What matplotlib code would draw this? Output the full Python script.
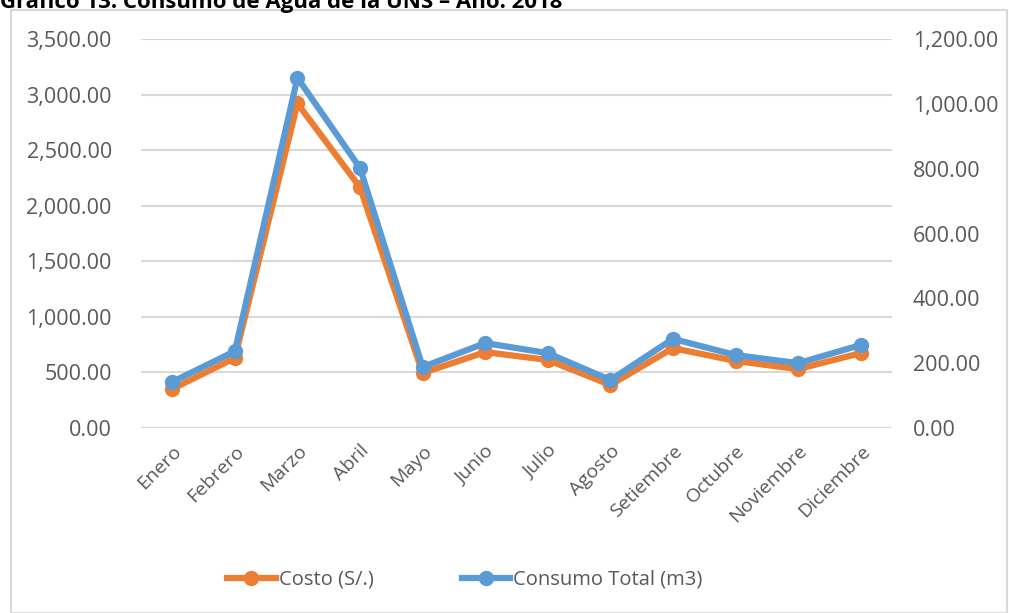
import matplotlib
matplotlib.use("Agg")
import matplotlib.pyplot as plt
from matplotlib.lines import Line2D
from matplotlib.patches import Rectangle
from matplotlib.ticker import FuncFormatter, MultipleLocator

MESES = [
    "Enero", "Febrero", "Marzo", "Abril", "Mayo", "Junio",
    "Julio", "Agosto", "Setiembre", "Octubre", "Noviembre", "Diciembre",
]
COSTO = [351, 630, 2920, 2165, 495, 683, 612, 387, 719, 603, 530, 674]
CONSUMO = [142, 237, 1080, 802, 188, 262, 231, 148, 275, 225, 200, 256]

TITULO = "Gráfico 13: Consumo de Agua de la UNS – Año: 2018"
NARANJA = "#ED7D31"
AZUL = "#5B9BD5"
GRIS_TEXTO = "#595959"
GRIS_REJILLA = "#D9D9D9"

plt.rcParams["font.family"] = ["Open Sans", "DejaVu Sans"]

fig = plt.figure(figsize=(10.09, 6.13), dpi=100)
W, H = 1009, 613

# marco del gráfico
fig.patches.append(Rectangle((11 / W, 0.5 / H), (W - 13) / W, (H - 10.5) / H,
                             transform=fig.transFigure, fill=False,
                             edgecolor="#D9D9D9", linewidth=1.5))
fig.text(0 / W, 1 - 8 / H, TITULO, fontsize=16, fontweight="bold",
         color="black", ha="left", va="baseline")

ax = fig.add_axes([141 / W, 1 - 428 / H, (892 - 141) / W, (428 - 39) / H])
ax2 = ax.twinx()

x = range(len(MESES))
ax.plot(x, COSTO, color=NARANJA, linewidth=4.5, marker="o", markersize=10,
        solid_joinstyle="round", zorder=3)
ax2.plot(x, CONSUMO, color=AZUL, linewidth=4.5, marker="o", markersize=10,
         solid_joinstyle="round", zorder=3)

ax.set_xlim(-0.5, len(MESES) - 0.5)
ax.set_ylim(0, 3500)
ax2.set_ylim(0, 1200)
ax.yaxis.set_major_locator(MultipleLocator(500))
ax2.yaxis.set_major_locator(MultipleLocator(200))
fmt = FuncFormatter(lambda v, _: f"{v:,.2f}")
ax.yaxis.set_major_formatter(fmt)
ax2.yaxis.set_major_formatter(fmt)

ax.set_xticks(list(x))
ax.set_xticklabels(MESES, rotation=45, ha="right", rotation_mode="anchor")
ax.tick_params(axis="x", length=0, pad=10, labelsize=14, labelcolor=GRIS_TEXTO)
ax.tick_params(axis="y", length=0, pad=21, labelsize=15.5, labelcolor=GRIS_TEXTO)
ax2.tick_params(axis="y", length=0, pad=15, labelsize=15.5, labelcolor=GRIS_TEXTO)

ax.grid(axis="y", color=GRIS_REJILLA, linewidth=1.5)
ax.set_axisbelow(True)
for a in (ax, ax2):
    for s in a.spines.values():
        s.set_visible(False)

handles = [
    Line2D([], [], color=NARANJA, linewidth=4.5, marker="o", markersize=10),
    Line2D([], [], color=AZUL, linewidth=4.5, marker="o", markersize=10),
]
fig.legend(handles, ["Costo (S/.)", "Consumo Total (m3)"], loc="center",
           bbox_to_anchor=(465 / W, 1 - 580 / H), ncol=2, frameon=False,
           fontsize=14.5, labelcolor=GRIS_TEXTO, handlelength=2.4,
           handletextpad=0.15, columnspacing=4.4)

fig.savefig("out.png", dpi=100)
